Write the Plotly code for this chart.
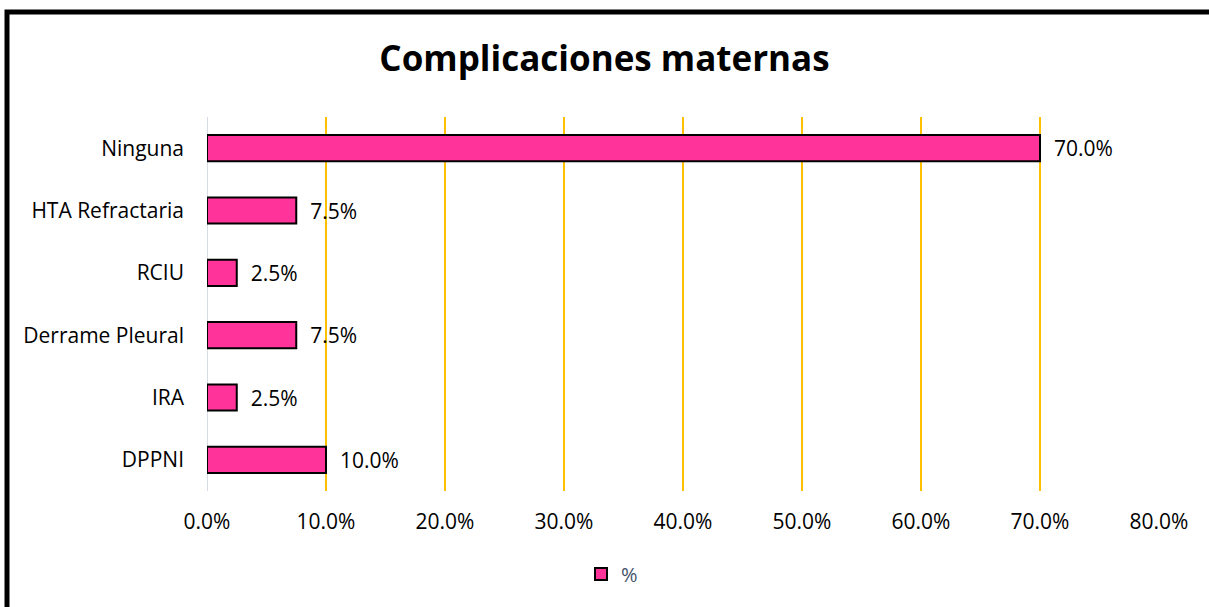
import plotly.graph_objects as go

categories = ["DPPNI", "IRA", "Derrame Pleural", "RCIU", "HTA Refractaria", "Ninguna"]
values = [0.100, 0.025, 0.075, 0.025, 0.075, 0.700]
tick_vals = [0, 0.1, 0.2, 0.3, 0.4, 0.5, 0.6, 0.7, 0.8]

FONT = "Open Sans"
W, H = 1209, 607
L, R, T, B = 207, 50, 117, 116
pw, ph = W - L - R, H - T - B

def px_x(x):
    return (x - L) / pw

def px_y(y):
    return 1 - (y - T) / ph

fig = go.Figure()
fig.add_trace(go.Bar(
    y=categories, x=values, orientation="h", name="%",
    marker=dict(color="#FF3399", line=dict(color="black", width=2)),
    text=["  " + f"{v*100:.1f}%" for v in values],
    textposition="outside", cliponaxis=False, constraintext="none",
    textfont=dict(family=FONT, size=21, color="black"),
))

fig.update_layout(
    width=W, height=H,
    margin=dict(l=L, r=R, t=T, b=B),
    paper_bgcolor="white", plot_bgcolor="white",
    bargap=0.58,
    title=dict(text="<b>Complicaciones maternas</b>", x=0.5, xanchor="center",
               y=1 - 59 / H, yanchor="middle",
               font=dict(family=FONT, size=35, color="black")),
    xaxis=dict(range=[0, 0.8], tickvals=tick_vals, tickformat=".1%",
               showgrid=True, gridcolor="#FFC000", gridwidth=2,
               zeroline=False, showline=False, ticks="",
               tickfont=dict(family=FONT, size=21, color="black"), ticklabelstandoff=16),
    yaxis=dict(showgrid=False, zeroline=False, showline=False, ticks="",
               tickfont=dict(family=FONT, size=21, color="black"), ticklabelstandoff=22),
    showlegend=True,
    legend=dict(orientation="h", x=px_x(612), xanchor="center", y=px_y(574), yanchor="middle",
                font=dict(family=FONT, size=20, color="#44546A")),
    shapes=[
        # axis line at zero, light grey
        dict(type="line", xref="x", yref="paper", x0=0, x1=0, y0=0, y1=1,
             line=dict(color="#D6DCE5", width=2), layer="below"),
        # outer frame (only left/top visible)
        dict(type="rect", xref="paper", yref="paper",
             x0=px_x(7), x1=px_x(1230), y0=px_y(630), y1=px_y(12),
             line=dict(color="black", width=5)),
    ],
)

fig.write_html("out.html", config={"displayModeBar": False},
               post_script="document.body.style.margin='0';")
